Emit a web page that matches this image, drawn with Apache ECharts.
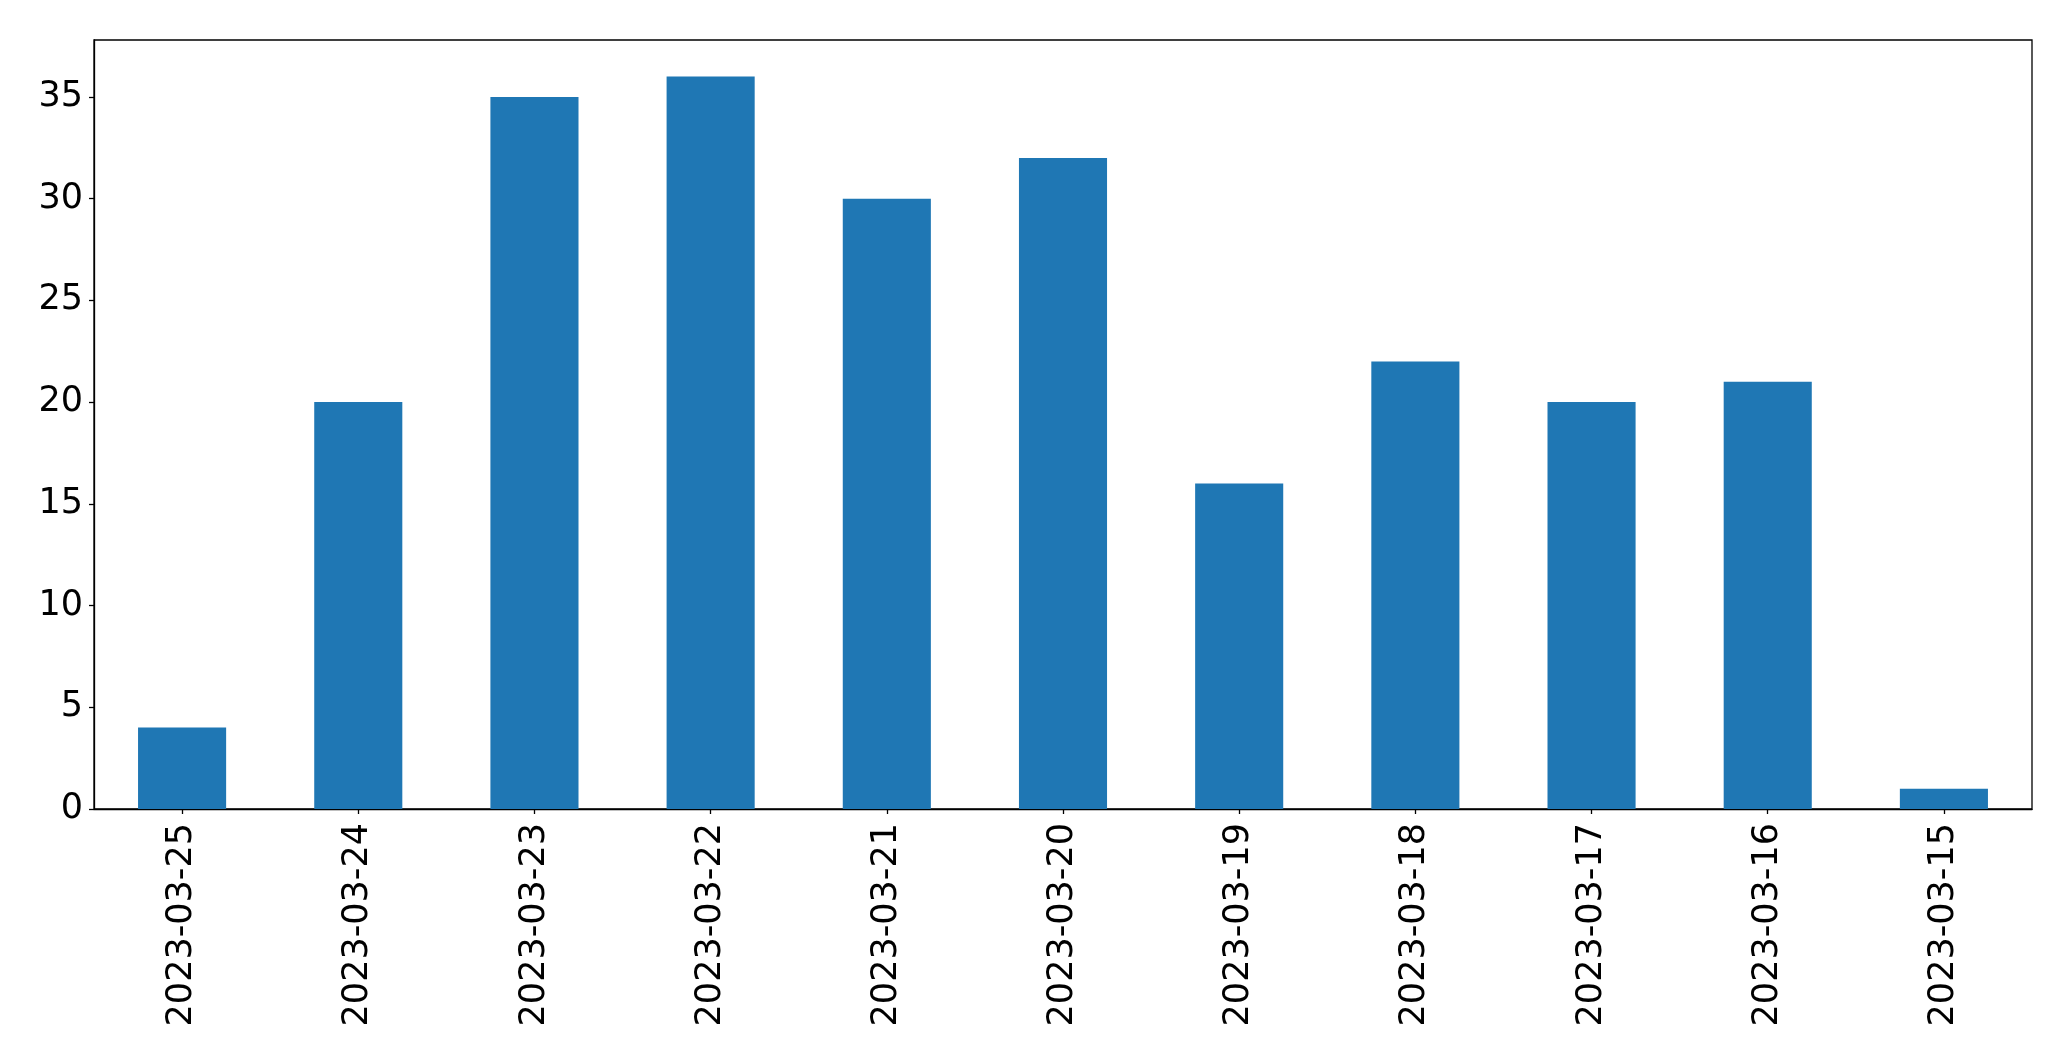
<!DOCTYPE html>
<html>
<head>
<meta charset="utf-8">
<script src="https://cdn.jsdelivr.net/npm/echarts@6/dist/echarts.min.js"></script>
<style>html,body{margin:0;padding:0;background:#fff}#c{width:2071px;height:1061px}</style>
</head>
<body>
<div id="c"></div>
<script>
const categories = ['2023-03-25','2023-03-24','2023-03-23','2023-03-22','2023-03-21','2023-03-20','2023-03-19','2023-03-18','2023-03-17','2023-03-16','2023-03-15'];
const values = [4, 20, 35, 36, 30, 32, 16, 22, 20, 21, 1];
const yTicks = [0, 5, 10, 15, 20, 25, 30, 35];

const chart = echarts.init(document.getElementById('c'), null, {renderer: 'canvas'});
const font = 'DejaVu Sans';
chart.setOption({
  animation: false,
  backgroundColor: '#fff',
  grid: {left: 94, right: 39, top: 40, bottom: 252, show: true, borderColor: '#000', borderWidth: 1.3, backgroundColor: 'transparent'},
  xAxis: {
    type: 'category',
    data: categories,
    axisLine: {show: true, lineStyle: {color: '#000', width: 1.3}},
    axisTick: {show: true, alignWithLabel: true, length: 5, lineStyle: {color: '#000', width: 1.3}},
    axisLabel: {rotate: 90, color: '#000', fontSize: 35, fontFamily: font, margin: 14, interval: 0}
  },
  yAxis: {
    type: 'value',
    min: 0, max: 37.8, interval: 5,
    splitLine: {show: false},
    axisLine: {show: true, lineStyle: {color: '#000', width: 1.3}},
    axisTick: {show: true, length: 5, lineStyle: {color: '#000', width: 1.3}},
    axisLabel: {color: '#000', fontSize: 35, fontFamily: font, margin: 11, showMaxLabel: false,
      formatter: v => yTicks.includes(v) ? String(v) : ''}
  },
  series: [{
    type: 'bar',
    data: values,
    barWidth: '50%',
    itemStyle: {color: '#1f77b4'}
  }]
});
</script>
</body>
</html>
